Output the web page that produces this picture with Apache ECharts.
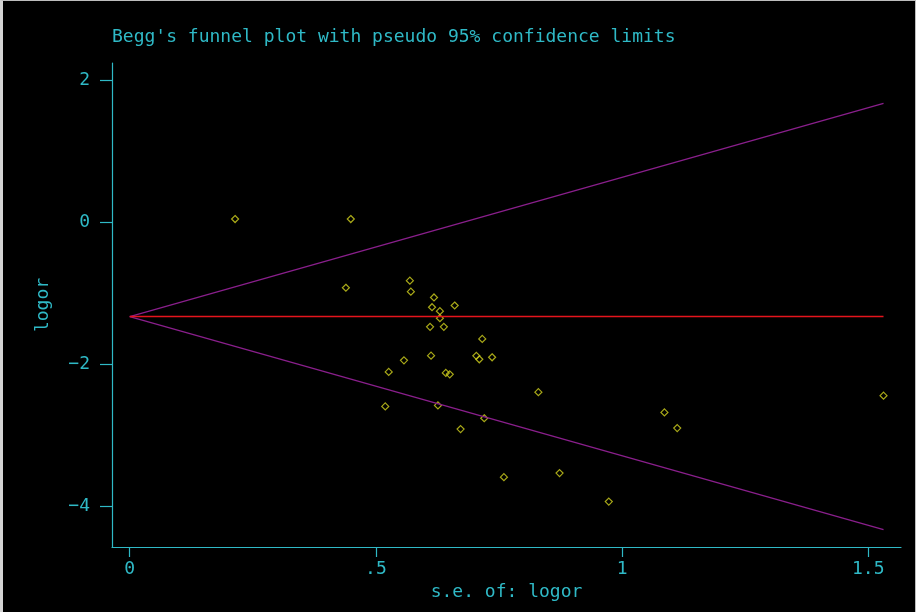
<!DOCTYPE html>
<html>
<head>
<meta charset="utf-8">
<title>Begg's funnel plot</title>
<script src="https://cdn.jsdelivr.net/npm/echarts@6/dist/echarts.min.js"></script>
<style>
  html, body { margin: 0; padding: 0; background: #cfcfcf; }
  #frame { width: 916px; height: 612px; box-sizing: border-box; border-left: 3px solid #d4d4d4; border-top: 1px solid #bdbdbd; border-right: 1px solid #bdbdbd; background: #000; }
  #chart { width: 100%; height: 100%; }
</style>
</head>
<body>
<div id="frame"><div id="chart"></div></div>
<script>
// Standard error of log odds ratio for each study
const seValues = [
  0.214, 0.449, 0.439, 0.569, 0.571, 0.618, 0.614, 0.630, 0.630, 0.660,
  0.610, 0.638, 0.716, 0.612, 0.557, 0.704, 0.710, 0.736, 0.526, 0.642,
  0.650, 0.830, 0.519, 0.626, 0.720, 0.672, 0.760, 0.873, 0.973, 1.086,
  1.112, 1.531
];
// Log odds ratio for each study
const logorValues = [
  0.049, 0.049, -0.918, -0.819, -0.973, -1.055, -1.192, -1.248, -1.347, -1.168,
  -1.468, -1.468, -1.638, -1.874, -1.940, -1.877, -1.925, -1.897, -2.103, -2.117,
  -2.137, -2.388, -2.588, -2.574, -2.755, -2.907, -3.584, -3.527, -3.928, -2.673,
  -2.893, -2.437
];
// Pooled estimate and pseudo 95% confidence limits (se from 0 to max se)
const limitSe = [0, 1.531];
const pooledLine = [-1.323, -1.323];
const upperLimit = [-1.323, 1.678];
const lowerLimit = [-1.323, -4.324];
// Axis ticks
const xTicks = [0, 0.5, 1, 1.5];
const xTickLabels = ['0', '.5', '1', '1.5'];
const yTicks = [-4, -2, 0, 2];
const yTickLabels = ['\u22124', '\u22122', '0', '2'];

const CYAN = '#2fb9c6';
const MONO = '"DejaVu Sans Mono", "Liberation Mono", monospace';

const pairs = (xs, ys) => xs.map((x, i) => [x, ys[i]]);

const chart = echarts.init(document.getElementById('chart'), null, { renderer: 'canvas' });
chart.setOption({
  backgroundColor: '#000',
  animation: false,
  title: {
    text: "Begg's funnel plot with pseudo 95% confidence limits",
    left: 109,
    top: 27,
    padding: 0,
    textStyle: { color: CYAN, fontFamily: MONO, fontSize: 18, fontWeight: 'normal', lineHeight: 18 }
  },
  grid: { left: 109, right: 14, top: 62, bottom: 65, containLabel: false },
  xAxis: {
    type: 'value',
    min: -0.036,
    max: 1.5665,
    name: 's.e. of: logor',
    nameLocation: 'middle',
    nameGap: 34,
    nameTextStyle: { color: CYAN, fontFamily: MONO, fontSize: 18 },
    axisLine: { show: true, onZero: false, lineStyle: { color: CYAN, width: 1.2 } },
    axisTick: { show: true, length: 10, customValues: xTicks, lineStyle: { color: CYAN, width: 1.2 } },
    axisLabel: {
      customValues: xTicks,
      margin: 13,
      color: CYAN,
      fontFamily: MONO,
      fontSize: 18,
      formatter: (v) => xTickLabels[xTicks.indexOf(v)]
    },
    splitLine: { show: false }
  },
  yAxis: {
    type: 'value',
    min: -4.567,
    max: 2.245,
    name: 'logor',
    nameLocation: 'middle',
    nameGap: 60,
    nameRotate: 90,
    nameTextStyle: { color: CYAN, fontFamily: MONO, fontSize: 18 },
    axisLine: { show: true, onZero: false, lineStyle: { color: CYAN, width: 1.2 } },
    axisTick: { show: true, length: 12, customValues: yTicks, lineStyle: { color: CYAN, width: 1.2 } },
    axisLabel: {
      customValues: yTicks,
      margin: 22,
      color: CYAN,
      fontFamily: MONO,
      fontSize: 18,
      formatter: (v) => yTickLabels[yTicks.indexOf(v)]
    },
    splitLine: { show: false }
  },
  series: [
    {
      name: 'upper limit',
      type: 'line',
      data: pairs(limitSe, upperLimit),
      symbol: 'none',
      lineStyle: { color: '#8a1f8c', width: 1.3 },
      silent: true
    },
    {
      name: 'lower limit',
      type: 'line',
      data: pairs(limitSe, lowerLimit),
      symbol: 'none',
      lineStyle: { color: '#8a1f8c', width: 1.3 },
      silent: true
    },
    {
      name: 'pooled',
      type: 'line',
      data: pairs(limitSe, pooledLine),
      symbol: 'none',
      lineStyle: { color: '#e5141c', width: 1.5 },
      silent: true
    },
    {
      name: 'studies',
      type: 'scatter',
      data: pairs(seValues, logorValues),
      symbol: 'diamond',
      symbolSize: [7, 7],
      itemStyle: { color: 'rgba(0,0,0,0)', borderColor: '#d2d21e', borderWidth: 1.2 },
      silent: true
    }
  ]
});
</script>
</body>
</html>
